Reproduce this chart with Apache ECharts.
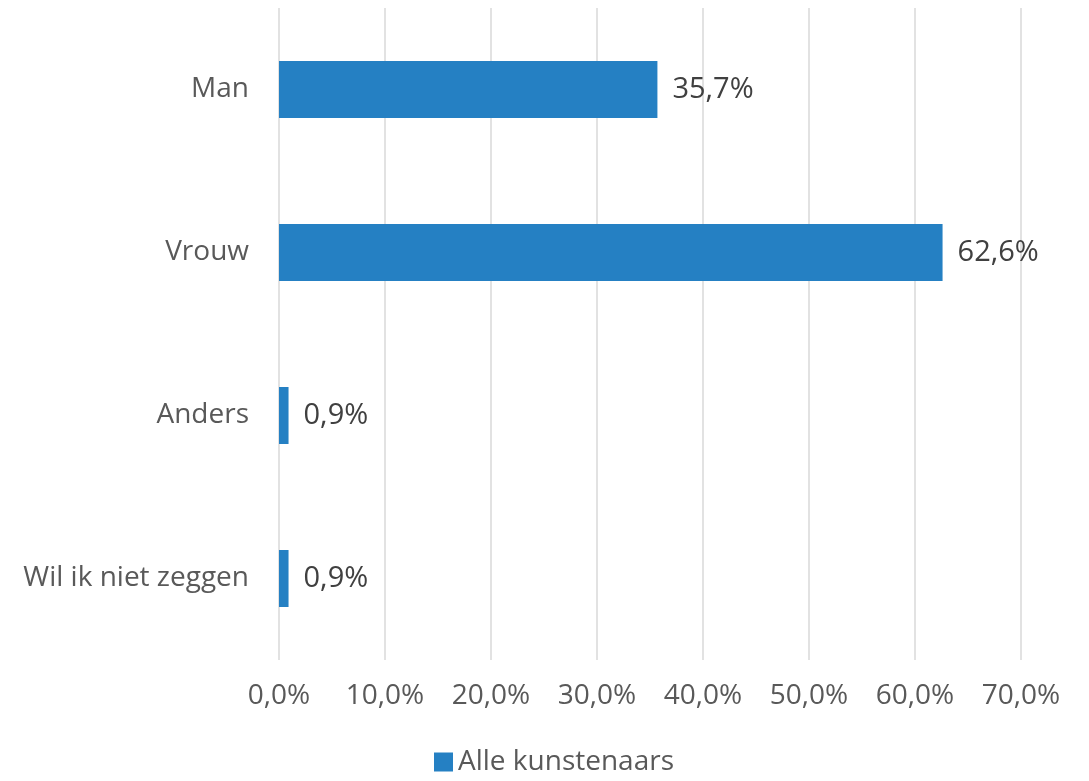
<!DOCTYPE html>
<html>
  <head>
    <meta charset="utf-8">
    <title>ECharts</title>
    <script src="https://cdn.jsdelivr.net/npm/echarts@6/dist/echarts.min.js"></script>
  </head>
  <body style="margin:0;">
    <div id="main" style="width:1089px;height:781px;"></div>
    <script type="text/javascript">
      var categories = ['Man', 'Vrouw', 'Anders', 'Wil ik niet zeggen'];
      var values = [35.7, 62.6, 0.9, 0.9];
      var seriesName = 'Alle kunstenaars';

      function pct(v) {
        return v.toFixed(1).replace('.', ',') + '%';
      }

      var myChart = echarts.init(document.getElementById('main'));
      var option = {
        animation: false,
        textStyle: { fontFamily: 'Open Sans' },
        grid: { left: 279, right: 68, top: 8, bottom: 121 },
        legend: {
          bottom: 0,
          left: 429,
          itemWidth: 19,
          itemHeight: 19,
          itemGap: 6,
          icon: 'rect',
          textStyle: { fontSize: 28, color: '#595959', fontFamily: 'Open Sans' },
          data: [seriesName]
        },
        xAxis: {
          type: 'value',
          min: 0,
          max: 70,
          interval: 10,
          axisLine: { show: false },
          axisTick: { show: false },
          axisLabel: {
            margin: 22,
            fontSize: 28,
            color: '#595959',
            formatter: function (v) { return pct(v); }
          },
          splitLine: { lineStyle: { color: '#d9d9d9', width: 1.5 } }
        },
        yAxis: {
          type: 'category',
          inverse: true,
          data: categories,
          axisLine: { show: false },
          axisTick: { show: false },
          axisLabel: { margin: 30, fontSize: 28, color: '#595959' }
        },
        series: [{
          name: seriesName,
          type: 'bar',
          data: values,
          barWidth: '35%',
          itemStyle: { color: '#2580C3' },
          label: {
            show: true,
            position: 'right',
            distance: 15,
            fontSize: 29,
            color: '#404040',
            formatter: function (p) { return pct(p.value); }
          }
        }]
      };
      myChart.setOption(option);
    </script>
  </body>
</html>
